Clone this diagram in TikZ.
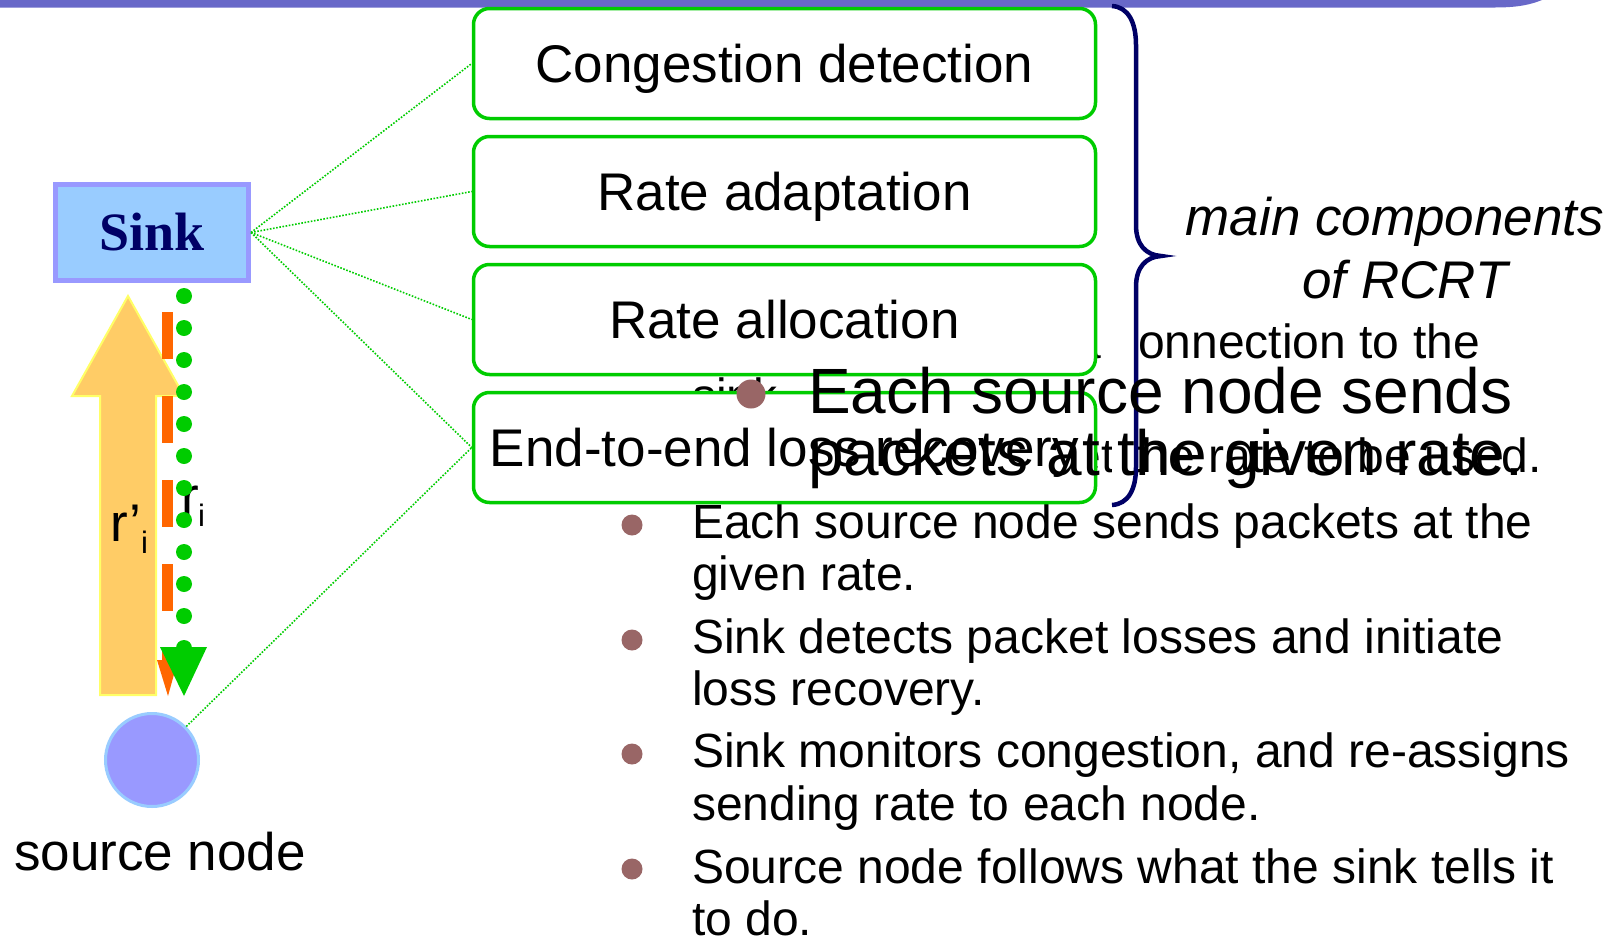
\documentclass[tikz,border=0pt]{standalone}
\usepackage{fontspec}
\setmainfont{Liberation Sans}
\newfontfamily\sinkfont{Liberation Serif}
\definecolor{gr}{RGB}{0,204,0}
\definecolor{navy}{RGB}{0,0,102}
\definecolor{barcol}{RGB}{104,104,200}
\definecolor{bulcol}{RGB}{153,102,102}
\definecolor{sinkfill}{RGB}{153,204,255}
\definecolor{sinkdraw}{RGB}{153,153,255}
\definecolor{arrfill}{RGB}{255,204,102}
\definecolor{arrdraw}{RGB}{255,255,102}
\definecolor{orng}{RGB}{255,102,0}
\tikzset{
  compbox/.style={draw=gr, line width=3.5pt, fill=white, rounded corners=16pt,
    minimum width=622pt, minimum height=110pt, inner sep=0pt,
    font=\fontsize{53}{60}\selectfont, text height=38pt, text depth=0pt},
  dotline/.style={draw=gr, line width=1.6pt, dash pattern=on 1.6pt off 1.6pt},
  listtxt/.style={font=\fontsize{48}{52}\selectfont, inner sep=0pt, anchor=base west},
  bigtxt/.style={font=\fontsize{64}{70}\selectfont, inner sep=0pt, anchor=base west},
  midtxt/.style={font=\fontsize{53}{60}\selectfont, inner sep=0pt},
  bul/.style={circle, fill=bulcol, inner sep=0pt, minimum size=21pt},
  braceline/.style={draw=navy, line width=4.5pt},
}
\begin{document}
\begin{tikzpicture}[x=1pt,y=-1pt]
\useasboundingbox (0,0) rectangle (1623,940);
% top bar
\fill[barcol] (0,0) -- (0,7.5) -- (1495,7.5) .. controls (1520,7.5) and (1532,4) .. (1542,0) -- cycle;

% partly hidden text behind the boxes
\node[listtxt, anchor=base east] (hA) at (1480,358) {a connection to the};
\node[listtxt] (hB) at (692,412) {sink};
\node[listtxt, anchor=base east] (hC) at (1542,472) {get the rate to be used.};

% bullet list
\node[bul] (u1) at (632,525) {};
\node[listtxt] (t1a) at (692,538) {Each source node sends packets at the};
\node[listtxt] (t1b) at (692,590) {given rate.};
\node[bul] (u2) at (632,640) {};
\node[listtxt] (t2a) at (692,653) {Sink detects packet losses and initiate};
\node[listtxt] (t2b) at (692,705) {loss recovery.};
\node[bul] (u3) at (632,754) {};
\node[listtxt] (t3a) at (692,767) {Sink monitors congestion, and re-assigns};
\node[listtxt] (t3b) at (692,820) {sending rate to each node.};
\node[bul] (u4) at (632,869) {};
\node[listtxt] (t4a) at (692,883) {Source node follows what the sink tells it};
\node[listtxt, text depth=0pt] (t4b) at (692,935) {to do.};

% component boxes
\node[compbox] (b1) at (784.5,63.5) {Congestion detection};
\node[compbox] (b2) at (784.5,191.5) {Rate adaptation};
\node[compbox] (b3) at (784.5,319.5) {Rate allocation};
\node[compbox] (b4) at (784.5,447.5) {End-to-end loss recovery};

% brace
\fill[white] (1112,6) .. controls (1128,7) and (1136,22) .. (1136,45) -- (1136,225)
  .. controls (1136,245) and (1146,255) .. (1161,256)
  .. controls (1146,257) and (1136,267) .. (1136,287) -- (1136,467)
  .. controls (1136,490) and (1128,504) .. (1112,505) -- cycle;
\draw[braceline] (1112,6) .. controls (1128,7) and (1136,22) .. (1136,45) -- (1136,225)
  .. controls (1136,245) and (1146,255) .. (1161,256)
  .. controls (1146,257) and (1136,267) .. (1136,287) -- (1136,467)
  .. controls (1136,490) and (1128,504) .. (1112,505);
\node[midtxt, font=\fontsize{53}{60}\selectfont\itshape, anchor=base] (mc1) at (1395,235) {main components};
\node[midtxt, font=\fontsize{53}{60}\selectfont\itshape, anchor=base] (mc2) at (1405,298) {of RCRT};

% big overlapping bullet
\node[bul, minimum size=29pt] (ub) at (751,394) {};
\node[bigtxt] (bg1) at (808,413) {Each source node sends};
\node[bigtxt] (bg2) at (808,475) {packets at the given rate.};

% left: sink, arrows, source
\node[draw=sinkdraw, fill=sinkfill, line width=5pt, minimum width=193pt, minimum height=96pt,
  inner sep=0pt, font=\fontsize{54}{60}\selectfont\sinkfont\bfseries, text=navy,
  text height=35pt, text depth=0pt] (sink) at (152,232.5) {Sink};
\filldraw[fill=arrfill, draw=arrdraw, line width=2pt]
  (100,695) -- (100,396) -- (72,396) -- (128,296) -- (184,396) -- (156,396) -- (156,695) -- cycle;
\node[midtxt, anchor=base west] (rp) at (110,541) {r’};
\node[font=\fontsize{31}{34}\selectfont, inner sep=0pt, anchor=base west] (rpi) at (141,553) {i};
\draw[orng, line width=11pt, dash pattern=on 47pt off 37pt] (167.5,312) -- (167.5,660);
\fill[orng] (157,660) -- (178,660) -- (168,696) -- cycle;
\node[midtxt, anchor=base west] (r) at (181,514) {r};
\node[font=\fontsize{31}{34}\selectfont, inner sep=0pt, anchor=base west] (ri) at (198,526) {i};
\draw[gr, line width=16pt, line cap=round, dash pattern=on 0pt off 32pt] (184,296) -- (184,660);
\fill[gr] (160,647) -- (207,647) -- (184,696) -- cycle;
\node[circle, fill=sinkdraw, draw=sinkfill, line width=3pt, minimum size=93pt, inner sep=0pt] (src) at (152,760) {};
\node[midtxt, anchor=base] (srclab) at (160,870) {source node};

% dotted connectors
\draw[dotline] (sink.east) -- (b1.west);
\draw[dotline] (sink.east) -- (b2.west);
\draw[dotline] (sink.east) -- (b3.west);
\draw[dotline] (sink.east) -- (b4.west);
\draw[dotline] (src) -- (b4.west);
\end{tikzpicture}
\end{document}
